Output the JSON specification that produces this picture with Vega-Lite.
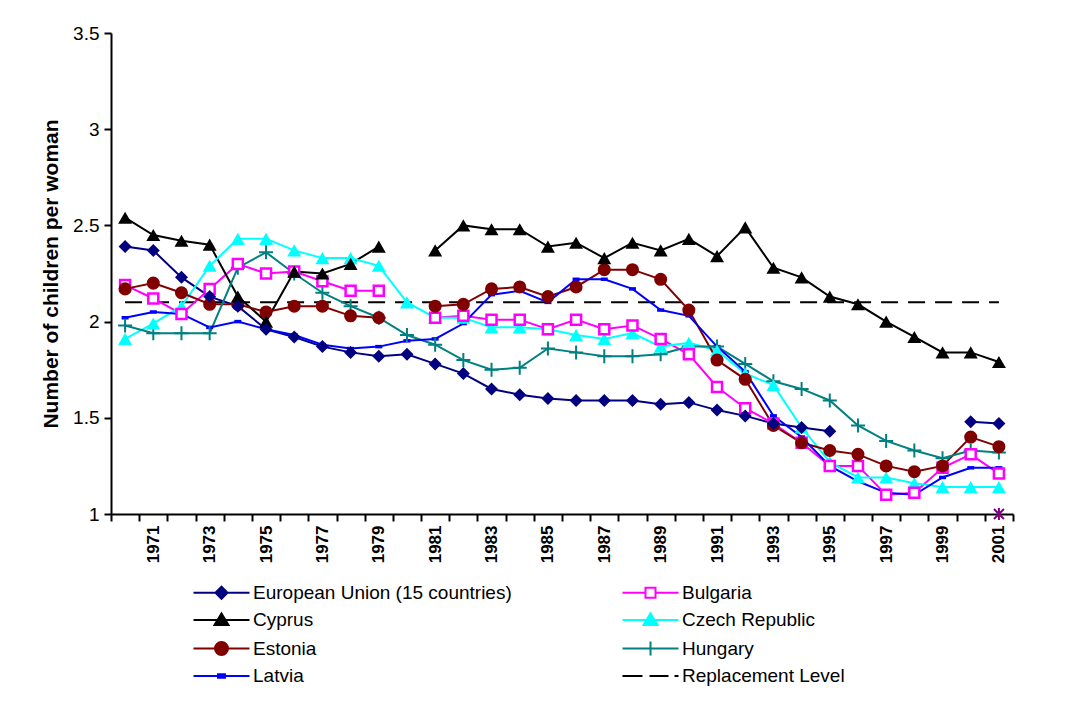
{
  "$schema": "https://vega.github.io/schema/vega-lite/v6.json",
  "width": 902,
  "height": 481,
  "autosize": {"type": "none"},
  "padding": {"left": 111, "top": 33, "right": 67, "bottom": 211},
  "background": "white",
  "config": {
    "view": {"stroke": null},
    "font": "Liberation Sans",
    "axis": {"domainColor": "black", "domainWidth": 2, "tickColor": "black", "tickWidth": 2, "labelColor": "black", "titleColor": "black", "grid": false, "labelFont": "Liberation Sans", "titleFont": "Liberation Sans"},
    "legend": {"orient": "none", "direction": "horizontal", "legendX": 101, "legendY": 550, "columns": 2, "padding": 0, "labelFont": "Liberation Sans", "labelFontSize": 19, "labelColor": "black", "labelOffset": 22, "columnPadding": 106, "rowPadding": 6.5, "symbolStrokeWidth": 2, "symbolSize": 100, "labelLimit": 400}
  },
  "data": {
    "values": [
      {"year": 1970, "EU": 2.39, "BG": 2.19, "CY": 2.54, "CZ": 1.91, "EE": 2.17, "HU": 1.98, "LV": 2.02, "RL": 2.1, "X": null},
      {"year": 1971, "EU": 2.37, "BG": 2.12, "CY": 2.45, "CZ": 1.99, "EE": 2.20, "HU": 1.94, "LV": 2.05, "RL": null, "X": null},
      {"year": 1972, "EU": 2.23, "BG": 2.04, "CY": 2.42, "CZ": 2.08, "EE": 2.15, "HU": 1.94, "LV": 2.04, "RL": null, "X": null},
      {"year": 1973, "EU": 2.13, "BG": 2.17, "CY": 2.40, "CZ": 2.29, "EE": 2.09, "HU": 1.94, "LV": 1.97, "RL": null, "X": null},
      {"year": 1974, "EU": 2.08, "BG": 2.30, "CY": 2.13, "CZ": 2.43, "EE": 2.09, "HU": 2.28, "LV": 2.00, "RL": null, "X": null},
      {"year": 1975, "EU": 1.96, "BG": 2.25, "CY": 2.00, "CZ": 2.43, "EE": 2.05, "HU": 2.36, "LV": 1.96, "RL": null, "X": null},
      {"year": 1976, "EU": 1.92, "BG": 2.26, "CY": 2.26, "CZ": 2.37, "EE": 2.08, "HU": 2.25, "LV": 1.93, "RL": null, "X": null},
      {"year": 1977, "EU": 1.87, "BG": 2.21, "CY": 2.25, "CZ": 2.33, "EE": 2.08, "HU": 2.15, "LV": 1.88, "RL": null, "X": null},
      {"year": 1978, "EU": 1.84, "BG": 2.16, "CY": 2.30, "CZ": 2.33, "EE": 2.03, "HU": 2.08, "LV": 1.86, "RL": null, "X": null},
      {"year": 1979, "EU": 1.82, "BG": 2.16, "CY": 2.39, "CZ": 2.29, "EE": 2.02, "HU": 2.02, "LV": 1.87, "RL": null, "X": null},
      {"year": 1980, "EU": 1.83, "BG": null, "CY": null, "CZ": 2.10, "EE": null, "HU": 1.93, "LV": 1.90, "RL": null, "X": null},
      {"year": 1981, "EU": 1.78, "BG": 2.02, "CY": 2.37, "CZ": 2.02, "EE": 2.08, "HU": 1.88, "LV": 1.91, "RL": null, "X": null},
      {"year": 1982, "EU": 1.73, "BG": 2.03, "CY": 2.50, "CZ": 2.02, "EE": 2.09, "HU": 1.80, "LV": 1.99, "RL": null, "X": null},
      {"year": 1983, "EU": 1.65, "BG": 2.01, "CY": 2.48, "CZ": 1.97, "EE": 2.17, "HU": 1.75, "LV": 2.14, "RL": null, "X": null},
      {"year": 1984, "EU": 1.62, "BG": 2.01, "CY": 2.48, "CZ": 1.97, "EE": 2.18, "HU": 1.76, "LV": 2.16, "RL": null, "X": null},
      {"year": 1985, "EU": 1.60, "BG": 1.96, "CY": 2.39, "CZ": 1.96, "EE": 2.13, "HU": 1.86, "LV": 2.10, "RL": null, "X": null},
      {"year": 1986, "EU": 1.59, "BG": 2.01, "CY": 2.41, "CZ": 1.93, "EE": 2.18, "HU": 1.84, "LV": 2.22, "RL": null, "X": null},
      {"year": 1987, "EU": 1.59, "BG": 1.96, "CY": 2.33, "CZ": 1.91, "EE": 2.27, "HU": 1.82, "LV": 2.22, "RL": null, "X": null},
      {"year": 1988, "EU": 1.59, "BG": 1.98, "CY": 2.41, "CZ": 1.94, "EE": 2.27, "HU": 1.82, "LV": 2.17, "RL": null, "X": null},
      {"year": 1989, "EU": 1.57, "BG": 1.91, "CY": 2.37, "CZ": 1.87, "EE": 2.22, "HU": 1.83, "LV": 2.06, "RL": null, "X": null},
      {"year": 1990, "EU": 1.58, "BG": 1.83, "CY": 2.43, "CZ": 1.89, "EE": 2.06, "HU": 1.87, "LV": 2.03, "RL": null, "X": null},
      {"year": 1991, "EU": 1.54, "BG": 1.66, "CY": 2.34, "CZ": 1.85, "EE": 1.80, "HU": 1.87, "LV": 1.87, "RL": null, "X": null},
      {"year": 1992, "EU": 1.51, "BG": 1.55, "CY": 2.49, "CZ": 1.73, "EE": 1.70, "HU": 1.78, "LV": 1.74, "RL": null, "X": null},
      {"year": 1993, "EU": 1.47, "BG": 1.47, "CY": 2.28, "CZ": 1.67, "EE": 1.46, "HU": 1.69, "LV": 1.51, "RL": null, "X": null},
      {"year": 1994, "EU": 1.45, "BG": 1.37, "CY": 2.23, "CZ": 1.45, "EE": 1.37, "HU": 1.65, "LV": 1.40, "RL": null, "X": null},
      {"year": 1995, "EU": 1.43, "BG": 1.25, "CY": 2.13, "CZ": 1.27, "EE": 1.33, "HU": 1.59, "LV": 1.25, "RL": null, "X": null},
      {"year": 1996, "EU": null, "BG": 1.25, "CY": 2.09, "CZ": 1.19, "EE": 1.31, "HU": 1.46, "LV": 1.17, "RL": null, "X": null},
      {"year": 1997, "EU": null, "BG": 1.10, "CY": 2.00, "CZ": 1.19, "EE": 1.25, "HU": 1.38, "LV": 1.11, "RL": null, "X": null},
      {"year": 1998, "EU": null, "BG": 1.11, "CY": 1.92, "CZ": 1.16, "EE": 1.22, "HU": 1.33, "LV": 1.10, "RL": null, "X": null},
      {"year": 1999, "EU": null, "BG": 1.24, "CY": 1.84, "CZ": 1.14, "EE": 1.25, "HU": 1.29, "LV": 1.19, "RL": null, "X": null},
      {"year": 2000, "EU": 1.48, "BG": 1.31, "CY": 1.84, "CZ": 1.14, "EE": 1.40, "HU": 1.33, "LV": 1.24, "RL": null, "X": null},
      {"year": 2001, "EU": 1.47, "BG": 1.21, "CY": 1.79, "CZ": 1.14, "EE": 1.35, "HU": 1.32, "LV": 1.24, "RL": 2.1, "X": 1.0}
    ]
  },
  "transform": [{"fold": ["EU", "BG", "CY", "CZ", "EE", "HU", "LV", "RL", "X"], "as": ["series", "value"]}],
  "encoding": {
    "x": {
      "field": "year", "type": "ordinal",
      "scale": {"type": "band", "paddingInner": 0, "paddingOuter": 0},
      "axis": {"title": null, "tickBand": "extent", "tickSize": 7, "labelAngle": -90, "labelFontSize": 17, "labelFontWeight": "bold", "labelPadding": 4, "labelOverlap": false, "labelExpr": "datum.value % 2 == 1 ? datum.label : ''"}
    },
    "y": {
      "field": "value", "type": "quantitative",
      "scale": {"domain": [1, 3.5], "nice": false, "zero": false},
      "axis": {"title": "Number of children per woman", "values": [1, 1.5, 2, 2.5, 3, 3.5], "format": "~g", "tickSize": 7, "labelFontSize": 19, "labelFontWeight": "normal", "labelPadding": 5, "titleFontSize": 21, "titleFontWeight": "bold", "titlePadding": 11}
    }
  },
  "layer": [
    {
      "transform": [{"filter": "datum.series === 'RL'"}],
      "mark": {"type": "line", "color": "black", "strokeWidth": 2, "strokeDash": [17, 10], "invalid": "filter"},
      "encoding": {}
    },
    {
      "transform": [{"filter": {"field": "series", "oneOf": ["EU", "BG", "CY", "CZ", "EE", "HU", "LV"]}}],
      "mark": {"type": "line", "strokeWidth": 2, "invalid": "break-paths-filter-domains"},
      "encoding": {
        "color": {"field": "series", "type": "nominal", "legend": null,
          "scale": {"domain": ["EU", "BG", "CY", "CZ", "EE", "HU", "LV"], "range": ["#000080", "#FF00FF", "#000000", "#00FFFF", "#800000", "#008080", "#0000FF"]}}
      }
    },
    {
      "transform": [{"filter": "datum.series === 'LV'"}],
      "mark": {"type": "point", "shape": "M-1,-0.5L1,-0.5L1,0.5L-1,0.5Z", "size": 49, "filled": true, "fill": "#0000FF", "stroke": null, "opacity": 1}
    },
    {
      "transform": [{"filter": "datum.series === 'HU'"}],
      "mark": {"type": "point", "shape": "M-1,0L1,0M0,-1L0,1", "size": 196, "filled": false, "stroke": "#008080", "strokeWidth": 2, "opacity": 1}
    },
    {
      "transform": [{"filter": "datum.series === 'CZ'"}],
      "mark": {"type": "point", "shape": "triangle-up", "size": 196, "filled": true, "fill": "#00FFFF", "stroke": null, "opacity": 1}
    },
    {
      "transform": [{"filter": "datum.series === 'BG'"}],
      "mark": {"type": "point", "shape": "square", "size": 100, "filled": true, "fill": "white", "stroke": "#FF00FF", "strokeWidth": 2.5, "opacity": 1}
    },
    {
      "transform": [{"filter": "datum.series === 'EE'"}],
      "mark": {"type": "point", "shape": "circle", "size": 170, "filled": true, "fill": "#800000", "stroke": null, "opacity": 1}
    },
    {
      "transform": [{"filter": "datum.series === 'CY'"}],
      "mark": {"type": "point", "shape": "triangle-up", "size": 196, "filled": true, "fill": "#000000", "stroke": null, "opacity": 1}
    },
    {
      "transform": [{"filter": "datum.series === 'EU'"}],
      "mark": {"type": "point", "shape": "diamond", "size": 169, "filled": true, "fill": "#000080", "stroke": null, "opacity": 1}
    },
    {
      "transform": [{"filter": "datum.series === 'X'"}],
      "mark": {"type": "point", "shape": "M-1,-1L1,1M-1,1L1,-1M0,-1.2L0,1.2", "size": 100, "filled": false, "stroke": "#800080", "strokeWidth": 2, "opacity": 1}
    },
    {
      "transform": [{"filter": "false"}],
      "mark": {"type": "point", "size": 100, "strokeWidth": 2, "opacity": 1},
      "encoding": {
        "shape": {"field": "series", "type": "nominal",
          "scale": {"domain": ["EU", "BG", "CY", "CZ", "EE", "HU", "LV", "RL"],
            "range": [
              "M-5.6,0L5.6,0M-1.2,0L0,-1.2L1.2,0L0,1.2Z",
              "M-5.6,0L-1.0,0M1.0,0L5.6,0M-1.0,-1.0L1.0,-1.0L1.0,1.0L-1.0,1.0Z",
              "M-5.6,0L5.6,0M0,-1.3L1.4,1.0L-1.4,1.0Z",
              "M-5.6,0L5.6,0M0,-1.3L1.4,1.0L-1.4,1.0Z",
              "M-5.6,0L5.6,0M-1.3,0A1.3,1.3,0,1,0,1.3,0A1.3,1.3,0,1,0,-1.3,0Z",
              "M-5.6,0L5.6,0M0,-1.4L0,1.4",
              "M-5.6,0L5.6,0M-0.7,-0.35L0.7,-0.35L0.7,0.35L-0.7,0.35Z",
              "M-5.6,0L-1.6,0M-0.2,0L3.6,0M4.8,0L5.6,0"
            ]},
          "legend": {"title": null, "labelExpr": "datum.label == 'EU' ? 'European Union (15 countries)' : datum.label == 'BG' ? 'Bulgaria' : datum.label == 'CY' ? 'Cyprus' : datum.label == 'CZ' ? 'Czech Republic' : datum.label == 'EE' ? 'Estonia' : datum.label == 'HU' ? 'Hungary' : datum.label == 'LV' ? 'Latvia' : 'Replacement Level'"}},
        "fill": {"field": "series", "type": "nominal",
          "scale": {"domain": ["EU", "BG", "CY", "CZ", "EE", "HU", "LV", "RL"],
            "range": ["#000080", "#FFFFFF", "#000000", "#00FFFF", "#800000", "transparent", "#0000FF", "transparent"]},
          "legend": {"title": null, "labelExpr": "datum.label == 'EU' ? 'European Union (15 countries)' : datum.label == 'BG' ? 'Bulgaria' : datum.label == 'CY' ? 'Cyprus' : datum.label == 'CZ' ? 'Czech Republic' : datum.label == 'EE' ? 'Estonia' : datum.label == 'HU' ? 'Hungary' : datum.label == 'LV' ? 'Latvia' : 'Replacement Level'"}},
        "stroke": {"field": "series", "type": "nominal",
          "scale": {"domain": ["EU", "BG", "CY", "CZ", "EE", "HU", "LV", "RL"],
            "range": ["#000080", "#FF00FF", "#000000", "#00FFFF", "#800000", "#008080", "#0000FF", "#000000"]},
          "legend": {"title": null, "labelExpr": "datum.label == 'EU' ? 'European Union (15 countries)' : datum.label == 'BG' ? 'Bulgaria' : datum.label == 'CY' ? 'Cyprus' : datum.label == 'CZ' ? 'Czech Republic' : datum.label == 'EE' ? 'Estonia' : datum.label == 'HU' ? 'Hungary' : datum.label == 'LV' ? 'Latvia' : 'Replacement Level'"}}
      }
    }
  ]
}
